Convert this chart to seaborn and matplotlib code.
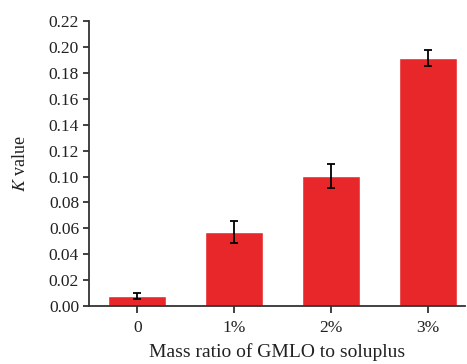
import matplotlib
matplotlib.use("Agg")
import matplotlib.pyplot as plt
import seaborn as sns
import pandas as pd

# datos
ratios = ["0", "1%", "2%", "3%"]
k_values = [0.008, 0.0575, 0.1005, 0.1917]
k_err = [0.0022, 0.0085, 0.009, 0.006]

sns.set_style("ticks")
plt.rcParams["font.family"] = ["Liberation Serif", "DejaVu Serif"]
plt.rcParams["mathtext.fontset"] = "stix"

df = pd.DataFrame({"ratio": ratios, "k": k_values})

fig = plt.figure(figsize=(4.67, 3.64), dpi=100)
ax = fig.add_axes([0.19, 0.159, 0.806, 0.783])

sns.barplot(data=df, x="ratio", y="k", color="#e8272b", saturation=1,
            width=0.6, errorbar=None, ax=ax)
ax.errorbar(range(len(ratios)), k_values, yerr=k_err, fmt="none",
            ecolor="black", elinewidth=1.3, capsize=3, capthick=1.3)

ax.set_ylim(0, 0.22)
ax.set_xlim(-0.5, 3.38)
ax.set_yticks([i * 0.02 for i in range(12)])
ax.set_yticklabels([f"{i * 0.02:.2f}" for i in range(12)])
ax.tick_params(direction="out", length=4, width=1.3, labelsize=12.5,
               colors="#333333", labelcolor="#222222")
ax.tick_params(axis="y", pad=3)
ax.tick_params(axis="x", length=5, pad=5)
for s in ["left", "bottom"]:
    ax.spines[s].set_linewidth(1.3)
    ax.spines[s].set_color("#333333")
sns.despine(ax=ax)

ax.set_xlabel("Mass ratio of GMLO to soluplus", fontsize=14, labelpad=5, color="#222222")
ax.set_ylabel("$K$ value", fontsize=13, labelpad=14, color="#222222")

fig.savefig("out.png", dpi=100)
